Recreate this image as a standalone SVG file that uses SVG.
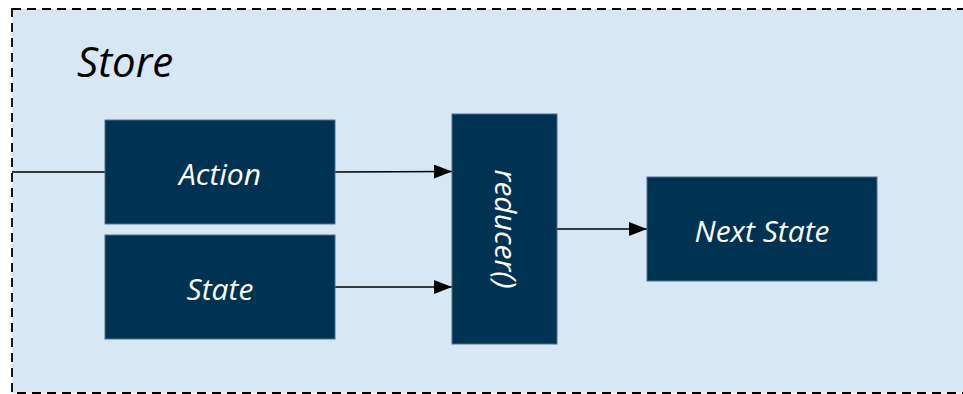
<svg xmlns="http://www.w3.org/2000/svg" width="963" height="394" viewBox="0 0 963 394">
<defs>
<style>
.box{fill:#003352;stroke:#4a6f8c;stroke-width:1}
.lbl{font-family:"Open Sans","Liberation Sans",sans-serif;font-style:italic;font-size:30px;fill:#ffffff;text-anchor:middle}
.conn{stroke:#000;stroke-width:1.5;fill:none}
</style>
<marker id="arr" viewBox="0 0 18 14" refX="18" refY="7" markerWidth="18" markerHeight="14" markerUnits="userSpaceOnUse" orient="auto" preserveAspectRatio="none">
<path d="M0,0 L18,7 L0,14 z" fill="#000"/>
</marker>
</defs>
<g id="store">
<rect x="12" y="9" width="970" height="384" fill="#d8e7f4" stroke="#000" stroke-width="1.8" stroke-dasharray="9 6"/>
<text x="77" y="77" font-family="'Open Sans','Liberation Sans',sans-serif" font-style="italic" font-size="42" fill="#000">Store</text>
</g>
<g id="connectors">
<line class="conn" x1="12" y1="172" x2="105" y2="172"/>
<line class="conn" x1="335" y1="172" x2="452" y2="171.5" marker-end="url(#arr)"/>
<line class="conn" x1="335" y1="287" x2="452" y2="287" marker-end="url(#arr)"/>
<line class="conn" x1="557" y1="229" x2="647" y2="229" marker-end="url(#arr)"/>
</g>
<g id="action">
<rect class="box" x="105" y="120" width="230" height="104"/>
<text class="lbl" x="220" y="185">Action</text>
</g>
<g id="state">
<rect class="box" x="105" y="235" width="230" height="104"/>
<text class="lbl" x="220" y="300">State</text>
</g>
<g id="reducer">
<rect class="box" x="452" y="114" width="105" height="230"/>
<text class="lbl" transform="translate(495,229) rotate(90)" x="0" y="0">reducer()</text>
</g>
<g id="next-state">
<rect class="box" x="647" y="177" width="230" height="104"/>
<text class="lbl" x="762" y="242">Next State</text>
</g>
</svg>
